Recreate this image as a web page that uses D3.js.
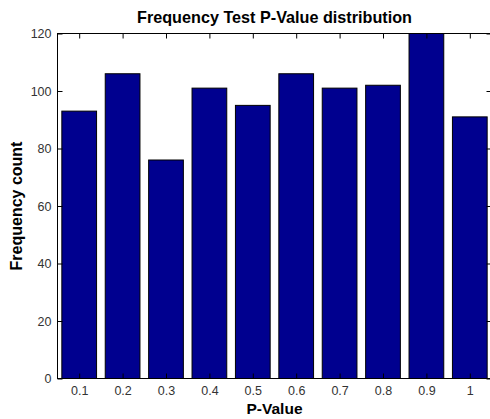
<!DOCTYPE html>
<html>
<head>
<meta charset="utf-8">
<script src="https://cdn.jsdelivr.net/npm/d3@7"></script>
<style>
  body { margin: 0; background: #fff; overflow: hidden; }
  svg { font-family: "Liberation Sans", Arial, sans-serif; display: block; }
</style>
</head>
<body>
<div id="chart"></div>
<script>
const categories = [0.1, 0.2, 0.3, 0.4, 0.5, 0.6, 0.7, 0.8, 0.9, 1];
const counts = [93, 106, 76, 101, 95, 106, 101, 102, 120, 91];
const yTicks = [0, 20, 40, 60, 80, 100, 120];

const width = 490, height = 419;
// the plot box runs just past the right edge of the picture
const margin = {top: 33.5, right: -1.5, bottom: 40.5, left: 57.5};

const svg = d3.select('#chart').append('svg')
  .attr('width', width)
  .attr('height', height);

const x = d3.scaleLinear().domain([0.05, 1.05]).range([margin.left, width - margin.right]);
const y = d3.scaleLinear().domain([0, 120]).range([height - margin.bottom, margin.top]);
const barW = (x(0.2) - x(0.1)) * 0.8;

// bars
svg.append('g').selectAll('rect')
  .data(counts)
  .enter().append('rect')
  .attr('x', (d, i) => x(categories[i]) - barW / 2)
  .attr('y', d => y(d))
  .attr('width', barW)
  .attr('height', d => y(0) - y(d))
  .attr('fill', '#00008f')
  .attr('stroke', '#000')
  .attr('stroke-width', 1);

// box
svg.append('rect')
  .attr('x', margin.left).attr('y', margin.top)
  .attr('width', width - margin.right - margin.left)
  .attr('height', y(0) - margin.top)
  .attr('fill', 'none').attr('stroke', '#000').attr('stroke-width', 1);

// axes (ticks pointing inward)
const fmt = d => d === 1 ? '1' : d3.format('.1f')(d);
const bottomAxis = svg.append('g')
  .attr('transform', 'translate(0,' + y(0) + ')')
  .call(d3.axisBottom(x).tickValues(categories).tickFormat(fmt).tickSizeInner(-5).tickSizeOuter(0).tickPadding(7.5));
const topAxis = svg.append('g')
  .attr('transform', 'translate(0,' + margin.top + ')')
  .call(d3.axisTop(x).tickValues(categories).tickFormat('').tickSizeInner(-5).tickSizeOuter(0));
const leftAxis = svg.append('g')
  .attr('transform', 'translate(' + margin.left + ',0)')
  .call(d3.axisLeft(y).tickValues(yTicks).tickSizeInner(-5).tickSizeOuter(0).tickPadding(6));
const rightAxis = svg.append('g')
  .attr('transform', 'translate(' + (width - margin.right) + ',0)')
  .call(d3.axisRight(y).tickValues(yTicks).tickFormat('').tickSizeInner(-5).tickSizeOuter(0));

[bottomAxis, topAxis, leftAxis, rightAxis].forEach(g => {
  g.select('.domain').remove();
  g.selectAll('line').attr('stroke', '#000');
  g.selectAll('text').attr('font-size', 12.5).attr('fill', '#333')
    .attr('font-family', '"Liberation Sans", Arial, sans-serif');
});

// title and labels
const midX = (margin.left + width - margin.right) / 2;
svg.append('text')
  .attr('x', midX)
  .attr('y', 23)
  .attr('text-anchor', 'middle')
  .attr('font-size', 16.2).attr('font-weight', 'bold')
  .text('Frequency Test P-Value distribution');

svg.append('text')
  .attr('x', midX)
  .attr('y', 414)
  .attr('text-anchor', 'middle')
  .attr('font-size', 15.5).attr('font-weight', 'bold')
  .text('P-Value');

svg.append('text')
  .attr('transform', 'translate(22,' + ((margin.top + y(0)) / 2) + ') rotate(-90)')
  .attr('text-anchor', 'middle')
  .attr('font-size', 16).attr('font-weight', 'bold')
  .text('Frequency count');
</script>
</body>
</html>
